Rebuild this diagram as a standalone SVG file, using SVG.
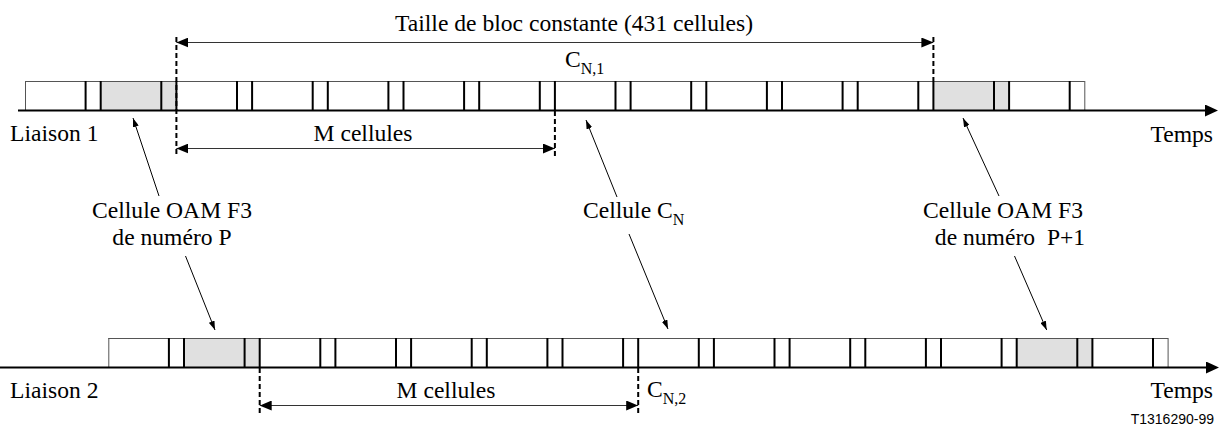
<svg xmlns="http://www.w3.org/2000/svg" xmlns:xlink="http://www.w3.org/1999/xlink" width="1229" height="430" viewBox="0 0 1229 430">
  <defs>
    <style>
      .t{font-family:"Liberation Serif","Times New Roman",serif;font-size:23.6px;fill:#000}
      .sub{font-size:16px}
      .code{font-family:"Liberation Sans",Arial,sans-serif;font-size:14px;fill:#000}
      .edge{stroke:#555;stroke-width:1;fill:none}
      .sep{stroke:#000;stroke-width:2;fill:none}
      .axis{stroke:#000;stroke-width:2;fill:none}
      .dash{stroke:#000;stroke-width:2;stroke-dasharray:5 3;fill:none}
      .dim{stroke:#333;stroke-width:1;fill:none}
      .ptr{stroke:#000;stroke-width:1;fill:none}
      .shade{fill:#e0e0e0}
    </style>
    <marker id="axisHead" markerUnits="userSpaceOnUse" markerWidth="13" markerHeight="12" refX="1" refY="6" orient="auto">
      <path d="M0,0 L13,6 L0,12 z" fill="#000"/>
    </marker>
    <marker id="dimHead" markerUnits="userSpaceOnUse" markerWidth="12" markerHeight="10" refX="12" refY="5" orient="auto-start-reverse">
      <path d="M0,0 L12,5 L0,10 z" fill="#000"/>
    </marker>
    <marker id="ptrHead" markerUnits="userSpaceOnUse" markerWidth="9" markerHeight="6" refX="9" refY="3" orient="auto">
      <path d="M0,0 L9,3 L0,6 z" fill="#000"/>
    </marker>
    <!-- one row of 14 cell periods (60.6 data + 15.1 gap), OAM cells shaded -->
    <g id="cellRow">
      <rect x="25" y="81" width="1059.8" height="29.5" fill="#fff"/>
      <rect class="shade" x="100.7" y="81" width="75.7" height="29.5"/>
      <rect class="shade" x="933.4" y="81" width="75.7" height="29.5"/>
      <path class="edge" d="M25,81.5 H1084.8 M25.5,81 V110 M1084.8,81 V110"/>
      <path class="sep" d="M85.6,81V110 M100.7,81V110 M161.3,81V110 M176.4,81V110 M237,81V110 M252.1,81V110 M312.7,81V110 M327.8,81V110 M388.4,81V110 M403.5,81V110 M464.1,81V110 M479.2,81V110 M539.8,81V110 M554.9,81V110 M615.5,81V110 M630.6,81V110 M691.2,81V110 M706.3,81V110 M766.9,81V110 M782,81V110 M842.6,81V110 M857.7,81V110 M918.3,81V110 M933.4,81V110 M994,81V110 M1009.1,81V110 M1069.7,81V110"/>
    </g>
  </defs>

  <rect width="1229" height="430" fill="#fff"/>

  <!-- link 1 -->
  <g id="liaison1">
    <use xlink:href="#cellRow"/>
    <path class="axis" d="M18,110.5 H1206" marker-end="url(#axisHead)"/>
    <text class="t" x="10" y="141">Liaison 1</text>
    <text class="t" x="1213" y="141.5" text-anchor="end">Temps</text>
    <text class="t" x="565" y="67">C<tspan class="sub" dy="7">N,1</tspan></text>
  </g>

  <!-- link 2 -->
  <g id="liaison2">
    <use xlink:href="#cellRow" transform="translate(83.3,257)"/>
    <path class="axis" d="M0,367.5 H1207" marker-end="url(#axisHead)"/>
    <text class="t" x="10" y="398">Liaison 2</text>
    <text class="t" x="1213" y="398" text-anchor="end">Temps</text>
    <text class="t" x="647" y="397">C<tspan class="sub" dy="7">N,2</tspan></text>
  </g>

  <!-- labels -->
  <g id="blockSize">
    <text class="t" x="574" y="31" text-anchor="middle">Taille de bloc constante (431 cellules)</text>
  </g>
  <g id="mCells1">
    <text class="t" x="363" y="141" text-anchor="middle">M cellules</text>
  </g>
  <g id="mCells2">
    <text class="t" x="446" y="398" text-anchor="middle">M cellules</text>
  </g>
  <g id="oamP">
    <text class="t" x="172" y="218" text-anchor="middle">Cellule OAM F3</text>
    <text class="t" x="172" y="245" text-anchor="middle">de numéro P</text>
  </g>
  <g id="cellCN">
    <text class="t" x="583" y="218">Cellule C<tspan class="sub" dy="7">N</tspan></text>
  </g>
  <g id="oamP1">
    <text class="t" x="1003" y="218" text-anchor="middle">Cellule OAM F3</text>
    <text class="t" x="1010" y="245" text-anchor="middle" xml:space="preserve">de numéro  P+1</text>
  </g>
  <g id="figCode">
    <text class="code" x="1214" y="424" text-anchor="end">T1316290-99</text>
  </g>

  <!-- connectors -->
  <g id="connectors">
    <path class="dash" d="M176.4,37 V157 M554.9,111 V156 M933.4,37 V81 M259.7,368 V413 M638.2,368 V413"/>
    <path class="dim" d="M176.4,42.5 H933.4" marker-start="url(#dimHead)" marker-end="url(#dimHead)"/>
    <path class="dim" d="M176.4,148.5 H554.9" marker-start="url(#dimHead)" marker-end="url(#dimHead)"/>
    <path class="dim" d="M259.7,405.5 H638.2" marker-start="url(#dimHead)" marker-end="url(#dimHead)"/>
    <path class="ptr" d="M159,196 L133,118" marker-end="url(#ptrHead)"/>
    <path class="ptr" d="M185.5,256 L215,330" marker-end="url(#ptrHead)"/>
    <path class="ptr" d="M617,197 L586,120" marker-end="url(#ptrHead)"/>
    <path class="ptr" d="M629,234 L668,329" marker-end="url(#ptrHead)"/>
    <path class="ptr" d="M999,196 L963,118" marker-end="url(#ptrHead)"/>
    <path class="ptr" d="M1014.5,256 L1046.7,330" marker-end="url(#ptrHead)"/>
  </g>
</svg>
